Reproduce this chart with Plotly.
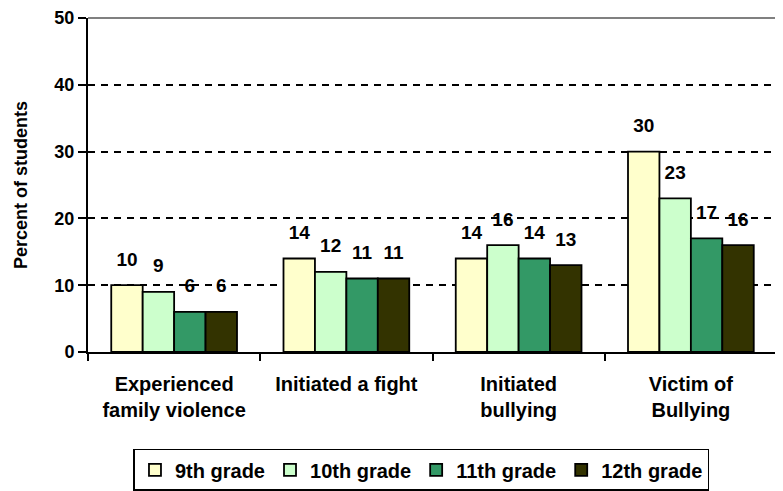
import plotly.graph_objects as go

categories = ["Experienced<br>family violence", "Initiated a fight", "Initiated<br>bullying", "Victim of<br>Bullying"]
series_names = ["9th grade", "10th grade", "11th grade", "12th grade"]
grade9 = [10, 14, 14, 30]
grade10 = [9, 12, 16, 23]
grade11 = [6, 11, 14, 17]
grade12 = [6, 11, 13, 16]
colors = ["#FFFFCC", "#CCFFCC", "#339966", "#333300"]
y_ticks = [0, 10, 20, 30, 40, 50]

FONT = "Liberation Sans, Arial, sans-serif"

fig = go.Figure()
all_series = [grade9, grade10, grade11, grade12]
for name, vals, col in zip(series_names, all_series, colors):
    fig.add_trace(go.Bar(
        x=categories, y=vals, name=name, offsetgroup=name,
        marker=dict(color=col, line=dict(color="black", width=1.8)),
    ))
# value labels, grouped like the bars, lifted above the bar tops
for name, vals in zip(series_names, all_series):
    fig.add_trace(go.Scatter(
        x=categories, y=vals, mode="markers+text", offsetgroup=name,
        text=[str(v) for v in vals], textposition="top center",
        textfont=dict(family=FONT, size=19, color="black", weight="bold"),
        marker=dict(size=22, opacity=0), showlegend=False, hoverinfo="skip",
        cliponaxis=False,
    ))

fig.update_layout(
    width=775, height=483,
    margin=dict(l=80, r=6, t=10, b=139, autoexpand=False),
    paper_bgcolor="white", plot_bgcolor="white",
    barmode="group", bargap=0.27, bargroupgap=0,
    scattermode="group", scattergap=0.27,
    font=dict(family=FONT, size=18, color="black", weight="bold"),
    showlegend=True,
    legend=dict(
        orientation="h", x=0.484, xanchor="center", y=-0.29, yanchor="top",
        bordercolor="black", borderwidth=1.5,
        font=dict(family=FONT, size=20, color="black", weight="bold"),
        itemwidth=30, traceorder="normal", tracegroupgap=0,
    ),
    xaxis=dict(
        type="category", showline=True, linecolor="black", linewidth=2,
        ticks="outside", tickson="boundaries", ticklen=7, tickwidth=2, tickcolor="black",
        tickfont=dict(family=FONT, size=20, color="black", weight="bold"),
        ticklabelstandoff=13, ticklabeloverflow="allow",
        showgrid=False, automargin=False,
    ),
    yaxis=dict(
        range=[0, 50], tickvals=y_ticks, showline=True, linecolor="black", linewidth=2,
        ticks="outside", ticklen=8, tickwidth=2, tickcolor="black",
        tickfont=dict(family=FONT, size=18, color="black", weight="bold"),
        ticklabeloverflow="allow",
        showgrid=True, gridcolor="black", gridwidth=2, griddash="7px,6px",
        zeroline=False, automargin=False,
        title=dict(text="Percent of students", font=dict(family=FONT, size=18, color="black", weight="bold"), standoff=22),
    ),
    shapes=[
        dict(type="line", xref="paper", yref="paper", x0=1, x1=1, y0=0, y1=1,
             line=dict(color="#808080", width=2), layer="below"),
        dict(type="line", xref="paper", yref="paper", x0=0, x1=1, y0=1, y1=1,
             line=dict(color="#808080", width=2), layer="below"),
    ],
)

fig.write_html("out.html")
